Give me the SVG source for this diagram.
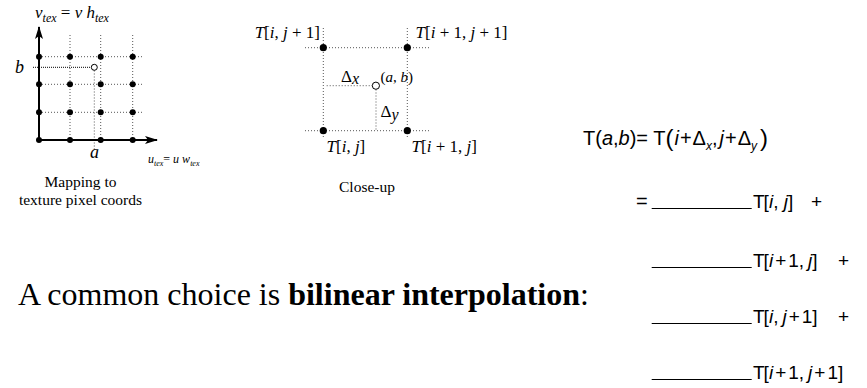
<svg xmlns="http://www.w3.org/2000/svg" width="867" height="388" viewBox="0 0 867 388">
<style>
.dot{stroke:#555;stroke-width:1;stroke-dasharray:1 2;fill:none}
.ax{stroke:#000;stroke-width:2;fill:none}
.pt{fill:#000}
.op{fill:#fff;stroke:#000;stroke-width:1}
.tm{font-family:"Liberation Serif",serif;fill:#000}
.it{font-style:italic}
.sf{font-family:"Liberation Sans",Arial,sans-serif;fill:#000}
.ul{stroke:#000;stroke-width:1.2}
</style>
<defs>
<marker id="ah" markerWidth="14" markerHeight="10" refX="12" refY="5" orient="auto" markerUnits="userSpaceOnUse">
<path d="M0,1 L13,5 L0,9 L3,5 Z" fill="#000"/>
</marker>
</defs>

<g id="mapping">
<g id="grid">
<line class="dot" x1="39" y1="56.7" x2="144" y2="56.7"/>
<line class="dot" x1="39" y1="84.3" x2="144" y2="84.3"/>
<line class="dot" x1="39" y1="112.3" x2="144" y2="112.3"/>
<line class="dot" x1="70" y1="35" x2="70" y2="140"/>
<line class="dot" x1="100.7" y1="35" x2="100.7" y2="140"/>
<line class="dot" x1="132.7" y1="35" x2="132.7" y2="140"/>
<line x1="33" y1="67.3" x2="91" y2="67.3" stroke="#000" stroke-width="1" stroke-dasharray="1 1"/>
<line class="dot" x1="94.3" y1="70.5" x2="94.3" y2="151"/>
</g>
<g id="axes">
<line class="ax" x1="39" y1="140" x2="39" y2="27" marker-end="url(#ah)"/>
<line class="ax" x1="39" y1="140" x2="157" y2="140" marker-end="url(#ah)"/>
</g>
<g id="pixels">
<circle class="pt" cx="39" cy="56.7" r="3"/><circle class="pt" cx="70" cy="56.7" r="3"/><circle class="pt" cx="100.7" cy="56.7" r="3"/><circle class="pt" cx="132.7" cy="56.7" r="3"/>
<circle class="pt" cx="39" cy="84.3" r="3"/><circle class="pt" cx="70" cy="84.3" r="3"/><circle class="pt" cx="100.7" cy="84.3" r="3"/><circle class="pt" cx="132.7" cy="84.3" r="3"/>
<circle class="pt" cx="39" cy="112.3" r="3"/><circle class="pt" cx="70" cy="112.3" r="3"/><circle class="pt" cx="100.7" cy="112.3" r="3"/><circle class="pt" cx="132.7" cy="112.3" r="3"/>
<circle class="pt" cx="39" cy="140" r="3"/><circle class="pt" cx="70" cy="140" r="3"/><circle class="pt" cx="100.7" cy="140" r="3"/><circle class="pt" cx="132.7" cy="140" r="3"/>
<circle class="op" cx="94.3" cy="67.3" r="3"/>
</g>
<text class="tm it" x="35" y="18" font-size="17">v<tspan font-size="12" dy="4">tex</tspan><tspan font-style="normal" dy="-4"> = </tspan>v h<tspan font-size="12" dy="4">tex</tspan></text>
<text class="tm it" x="15" y="73" font-size="18">b</text>
<text class="tm it" x="90" y="158" font-size="18">a</text>
<text class="tm it" x="148" y="163" font-size="12">u<tspan font-size="8" dy="3">tex</tspan><tspan font-style="normal" dy="-3">= </tspan>u w<tspan font-size="8" dy="3">tex</tspan></text>
<text class="tm" x="80.5" y="187" font-size="15.5" text-anchor="middle">Mapping to</text>
<text class="tm" x="80.5" y="205" font-size="15.5" text-anchor="middle">texture pixel coords</text>
</g>

<g id="closeup">
<line class="dot" x1="305" y1="47.7" x2="429" y2="47.7"/>
<line class="dot" x1="305" y1="130.7" x2="429" y2="130.7"/>
<line class="dot" x1="323.3" y1="28" x2="323.3" y2="138"/>
<line class="dot" x1="407.3" y1="28" x2="407.3" y2="138"/>
<line class="dot" x1="326.7" y1="85.7" x2="372" y2="85.7" stroke="#000"/>
<line class="dot" x1="376" y1="89.5" x2="376" y2="130.7" stroke="#000"/>
<circle class="pt" cx="323.3" cy="47.7" r="3.6"/>
<circle class="pt" cx="407.3" cy="47.7" r="3.6"/>
<circle class="pt" cx="323.3" cy="130.7" r="3.6"/>
<circle class="pt" cx="407.3" cy="130.7" r="3.6"/>
<circle class="op" cx="375.9" cy="85.7" r="3.6"/>
<text class="tm" x="320" y="38" font-size="17" text-anchor="end"><tspan class="it">T</tspan>[<tspan class="it">i</tspan>, <tspan class="it">j</tspan> + 1]</text>
<text class="tm" x="415.5" y="38" font-size="17"><tspan class="it">T</tspan>[<tspan class="it">i</tspan> + 1, <tspan class="it">j</tspan> + 1]</text>
<text class="tm" x="341" y="82" font-size="17">Δ<tspan class="it" font-size="16" dy="2">x</tspan></text>
<text class="tm" x="380.5" y="82" font-size="15">(<tspan class="it">a</tspan>, <tspan class="it">b</tspan>)</text>
<text class="tm" x="380.5" y="117" font-size="17">Δ<tspan class="it" font-size="16" dy="3">y</tspan></text>
<text class="tm" x="326.5" y="152" font-size="17"><tspan class="it">T</tspan>[<tspan class="it">i</tspan>, <tspan class="it">j</tspan>]</text>
<text class="tm" x="411.5" y="152" font-size="17"><tspan class="it">T</tspan>[<tspan class="it">i</tspan> + 1, <tspan class="it">j</tspan>]</text>
<text class="tm" x="367" y="192" font-size="15.5" text-anchor="middle">Close-up</text>
</g>

<g id="statement">
<text class="tm" x="18" y="305" font-size="32">A common choice is <tspan font-weight="bold">bilinear interpolation</tspan>:</text>
</g>

<g id="formula">
<text class="sf" x="583" y="145" font-size="20">T(<tspan class="it">a</tspan>,<tspan class="it">b</tspan>)= T<tspan font-size="24" dy="1">(</tspan><tspan class="it" dy="-1" dx="1">i</tspan><tspan dx="1">+</tspan><tspan dx="1">Δ</tspan><tspan class="it" font-size="12" dy="5">x</tspan><tspan dy="-5">,</tspan><tspan class="it" dx="2">j</tspan><tspan dx="1">+</tspan><tspan dx="1">Δ</tspan><tspan class="it" font-size="12" dy="5">y</tspan><tspan font-size="24" dy="-4" dx="3">)</tspan></text>
<text class="sf" x="636" y="208" font-size="20">=</text>
<line class="ul" x1="651.7" y1="208.5" x2="751.7" y2="208.5"/>
<text class="sf" x="753" y="208" font-size="19">T<tspan dx="-1">[</tspan><tspan class="it">i</tspan>, <tspan class="it">j</tspan>]</text>
<text class="sf" x="811" y="208" font-size="19">+</text>
<line class="ul" x1="651.7" y1="267.5" x2="751.7" y2="267.5"/>
<text class="sf" x="753" y="267" font-size="19">T<tspan dx="-1">[</tspan><tspan class="it">i</tspan><tspan dx="2">+</tspan><tspan dx="2">1,</tspan><tspan class="it" dx="4">j</tspan>]</text>
<text class="sf" x="838" y="267" font-size="19">+</text>
<line class="ul" x1="651.7" y1="323.5" x2="751.7" y2="323.5"/>
<text class="sf" x="753" y="323" font-size="19">T<tspan dx="-1">[</tspan><tspan class="it">i</tspan>,<tspan class="it" dx="4">j</tspan><tspan dx="2">+</tspan><tspan dx="2">1]</tspan></text>
<text class="sf" x="838" y="323" font-size="19">+</text>
<line class="ul" x1="651.7" y1="379.5" x2="751.7" y2="379.5"/>
<text class="sf" x="753" y="379" font-size="19">T<tspan dx="-1">[</tspan><tspan class="it">i</tspan><tspan dx="2">+</tspan><tspan dx="2">1,</tspan><tspan class="it" dx="4">j</tspan><tspan dx="2">+</tspan><tspan dx="2">1]</tspan></text>
</g>
</svg>
